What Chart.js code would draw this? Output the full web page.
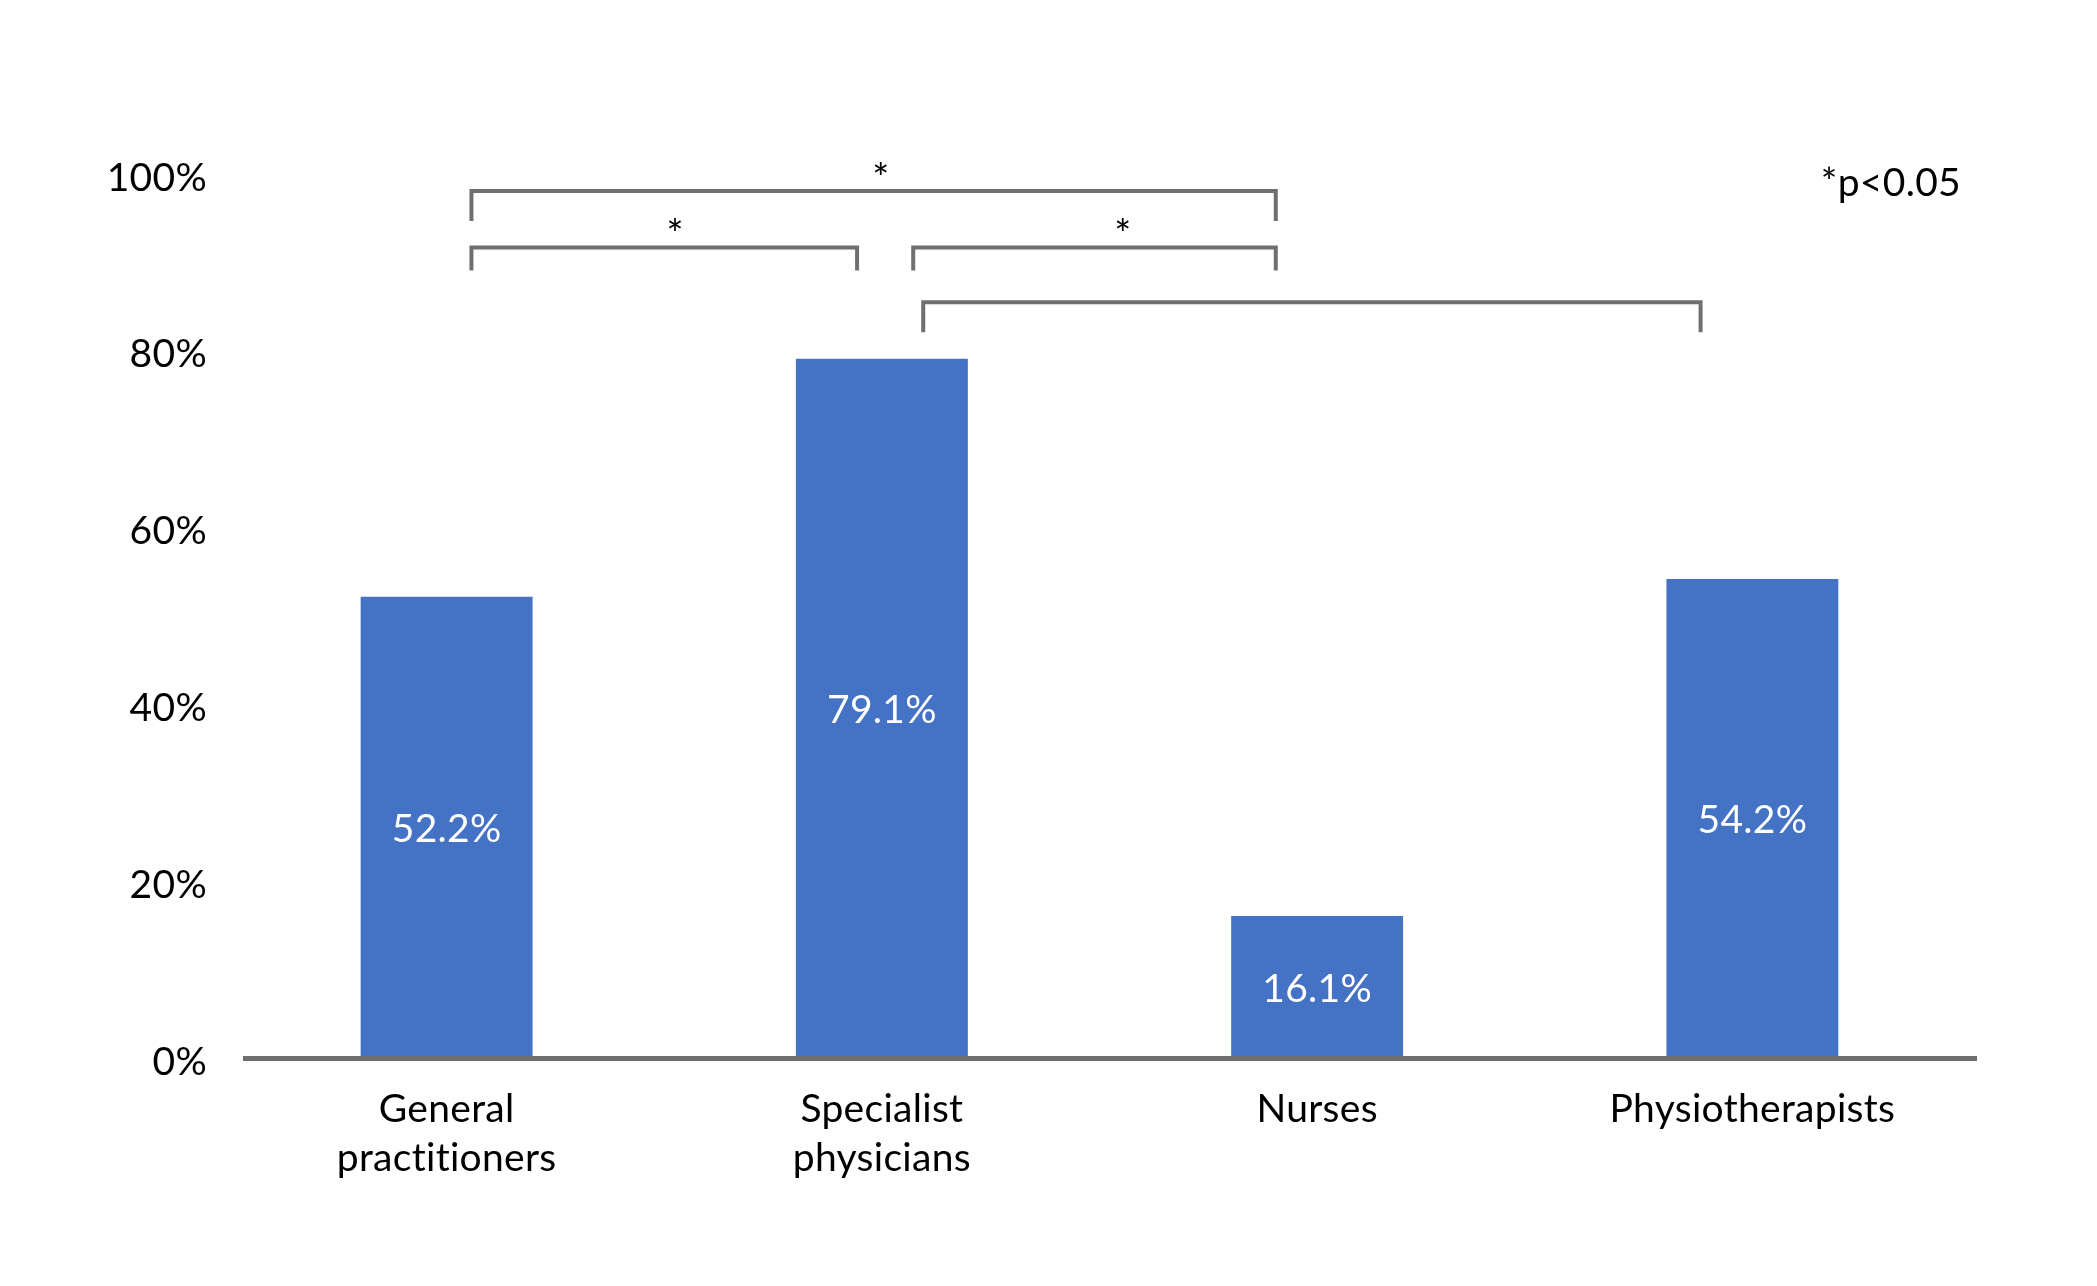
<!DOCTYPE html>
<html>
<head>
<meta charset="utf-8">
<script src="https://cdn.jsdelivr.net/npm/chart.js@4"></script>
<style>
  html, body { margin: 0; padding: 0; background: #ffffff; }
  #wrap { width: 2097px; height: 1286px; position: relative; }
</style>
</head>
<body>
<div id="wrap"><canvas id="c" width="2097" height="1286"></canvas></div>
<script>
// ---- data ----
const categories = [["General", "practitioners"], ["Specialist", "physicians"], ["Nurses"], ["Physiotherapists"]];
const values = [52.2, 79.1, 16.1, 54.2];
const valueLabels = ["52.2%", "79.1%", "16.1%", "54.2%"];
const yTicks = [0, 20, 40, 60, 80, 100];
// significance brackets: x in category-index units, y in % units
const bracketFrom = [0.057, 0.057, 1.072, 1.095];
const bracketTo   = [1.905, 0.943, 1.905, 2.881];
const bracketY    = [98.07, 91.7, 91.7, 85.5];
const bracketDrop = [94.7, 89.1, 89.1, 82.1];
const bracketStar = [true, true, true, false];
const starX       = [0.998, 0.525, 1.554, null];
const noteText = "*p<0.05";

const FONT = "Lato, 'Open Sans', sans-serif";
const TXT = 39;
const GRAY = "#6f6f6f";

const overlay = {
  id: 'overlay',
  beforeDraw(chart) {
    try { chart.ctx.letterSpacing = '0.3px'; } catch (e) {}
  },
  afterDatasetsDraw(chart) {
    const ctx = chart.ctx;
    const xs = chart.scales.x, ys = chart.scales.y;
    const unit = xs.getPixelForValue(1) - xs.getPixelForValue(0);
    const xAt = v => xs.getPixelForValue(0) + v * unit;
    ctx.save();
    // bar value labels
    const meta = chart.getDatasetMeta(0);
    ctx.fillStyle = '#ffffff';
    ctx.font = TXT + 'px ' + FONT;
    ctx.textAlign = 'center';
    ctx.textBaseline = 'middle';
    meta.data.forEach((bar, i) => {
      const p = bar.getProps(['x', 'y', 'base'], true);
      ctx.fillText(valueLabels[i], p.x, (p.y + p.base) / 2 + 2);
    });
    // baseline
    const y0 = ys.getPixelForValue(0);
    ctx.strokeStyle = GRAY;
    ctx.lineWidth = 5;
    ctx.beginPath();
    ctx.moveTo(chart.chartArea.left + 14, y0);
    ctx.lineTo(chart.chartArea.right + 7, y0);
    ctx.stroke();
    // brackets
    ctx.lineWidth = 4;
    ctx.lineCap = 'butt';
    ctx.lineJoin = 'miter';
    for (let i = 0; i < bracketFrom.length; i++) {
      const x1 = xAt(bracketFrom[i]), x2 = xAt(bracketTo[i]);
      const y = ys.getPixelForValue(bracketY[i]), yd = ys.getPixelForValue(bracketDrop[i]);
      ctx.beginPath();
      ctx.moveTo(x1, yd);
      ctx.lineTo(x1, y);
      ctx.lineTo(x2, y);
      ctx.lineTo(x2, yd);
      ctx.stroke();
      if (bracketStar[i]) {
        ctx.fillStyle = '#000000';
        ctx.font = '40px ' + FONT;
        ctx.textAlign = 'center';
        ctx.textBaseline = 'middle';
        ctx.fillText('*', xAt(starX[i]), y - 11);
      }
    }
    // note
    ctx.fillStyle = '#000000';
    ctx.font = TXT + 'px ' + FONT;
    ctx.textAlign = 'right';
    ctx.textBaseline = 'middle';
    ctx.fillText(noteText, chart.chartArea.right - 9, ys.getPixelForValue(98.9));
    ctx.restore();
  }
};

new Chart(document.getElementById('c'), {
  type: 'bar',
  data: {
    labels: categories,
    datasets: [{
      data: values,
      backgroundColor: '#4472C4',
      borderWidth: 0,
      barPercentage: 0.395,
      categoryPercentage: 1.0
    }]
  },
  options: {
    responsive: false,
    animation: false,
    devicePixelRatio: 1,
    layout: { padding: { top: 174, right: 127, bottom: 0, left: 0 } },
    plugins: { legend: { display: false }, tooltip: { enabled: false } },
    scales: {
      x: {
        grid: { display: false, drawTicks: false, tickLength: 0 },
        border: { display: false },
        ticks: {
          color: '#000000',
          font: { family: FONT, size: TXT, lineHeight: 1.27 },
          padding: 26,
          maxRotation: 0,
          autoSkip: false
        },
        afterFit(s) { s.height = 227.5; }
      },
      y: {
        min: 0,
        max: 100,
        afterBuildTicks(s) { s.ticks = yTicks.map(v => ({ value: v })); },
        grid: { display: false, drawTicks: false, tickLength: 0 },
        border: { display: false },
        ticks: {
          color: '#000000',
          font: { family: FONT, size: TXT },
          padding: 22,
          labelOffset: 4,
          callback: v => v + '%'
        },
        afterFit(s) { s.width = 229; }
      }
    }
  },
  plugins: [overlay]
});
</script>
</body>
</html>
